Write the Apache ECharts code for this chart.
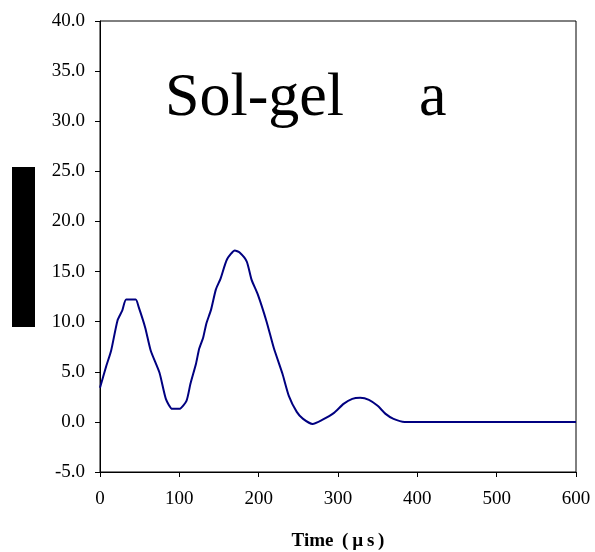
<!DOCTYPE html>
<html>
<head>
<meta charset="utf-8">
<script src="https://cdn.jsdelivr.net/npm/echarts@6/dist/echarts.min.js"></script>
<style>
  html, body { margin: 0; padding: 0; background: #fff; }
  #chart { width: 595px; height: 552px; }
</style>
</head>
<body>
<div id="chart"></div>
<script>
// time in microseconds, amplitude
const times = [0, 8, 14, 22, 28, 33, 45, 49, 57, 64, 75, 83, 91, 100, 109, 114, 121, 125, 130, 134,
  140, 146, 152, 160, 170, 176, 185, 191, 199, 210, 219, 230, 238, 248, 256, 268, 280, 295, 307, 318,
  328, 339, 350, 360, 370, 384, 400, 500, 600];
const amps = [3.4, 5.6, 7.1, 10.1, 11.1, 12.2, 12.2, 11.4, 9.4, 7.1, 4.9, 2.3, 1.3, 1.3, 2.1, 3.8, 5.8, 7.3, 8.4, 9.8,
  11.2, 13.2, 14.3, 16.2, 17.1, 16.9, 16.0, 14.2, 12.7, 10.0, 7.4, 4.8, 2.6, 1.0, 0.3, -0.2, 0.2, 0.9, 1.8, 2.3,
  2.4, 2.2, 1.6, 0.8, 0.3, 0.0, 0.0, 0.0, 0.0];

const serif = '"Liberation Serif", "Times New Roman", serif';
const chart = echarts.init(document.getElementById('chart'));

const option = {
  backgroundColor: '#ffffff',
  animation: false,
  grid: {
    left: 100, right: 19, top: 21, bottom: 80,
    outerBoundsMode: 'none',
    show: true, borderColor: '#000', borderWidth: 1
  },
  xAxis: {
    type: 'value', min: 0, max: 600, interval: 100,
    name: 'Time\u2009 (\u2009µ\u2009s\u2009)', nameLocation: 'middle', nameGap: 60,
    nameTextStyle: { fontFamily: serif, fontSize: 19, fontWeight: 'bold', color: '#000' },
    axisLine: { show: true, onZero: false, lineStyle: { color: '#000', width: 1 } },
    axisTick: { show: true, length: 5, lineStyle: { color: '#000' } },
    axisLabel: { fontFamily: serif, fontSize: 19, color: '#000', margin: 18 },
    splitLine: { show: false }
  },
  yAxis: {
    type: 'value', min: -5, max: 40, interval: 5,
    axisLine: { show: true, onZero: false, lineStyle: { color: '#000', width: 1 } },
    axisTick: { show: true, length: 5, lineStyle: { color: '#000' } },
    axisLabel: { fontFamily: serif, fontSize: 19, color: '#000', margin: 15,
      formatter: v => v.toFixed(1) },
    splitLine: { show: false }
  },
  graphic: [
    { type: 'rect', left: 12, top: 167, shape: { width: 23, height: 160 }, style: { fill: '#000' } },
    { type: 'text', left: 165, top: 68, style: { text: 'Sol-gel', fontFamily: serif, fontSize: 62, fill: '#000' } },
    { type: 'text', left: 419, top: 68, style: { text: 'a', fontFamily: serif, fontSize: 62, fill: '#000' } }
  ],
  series: [{
    type: 'line',
    data: times.map((t, i) => [t, amps[i]]),
    showSymbol: false,
    smooth: 0.2,
    lineStyle: { color: '#000080', width: 2 },
    itemStyle: { color: '#000080' }
  }]
};
chart.setOption(option);
</script>
</body>
</html>
